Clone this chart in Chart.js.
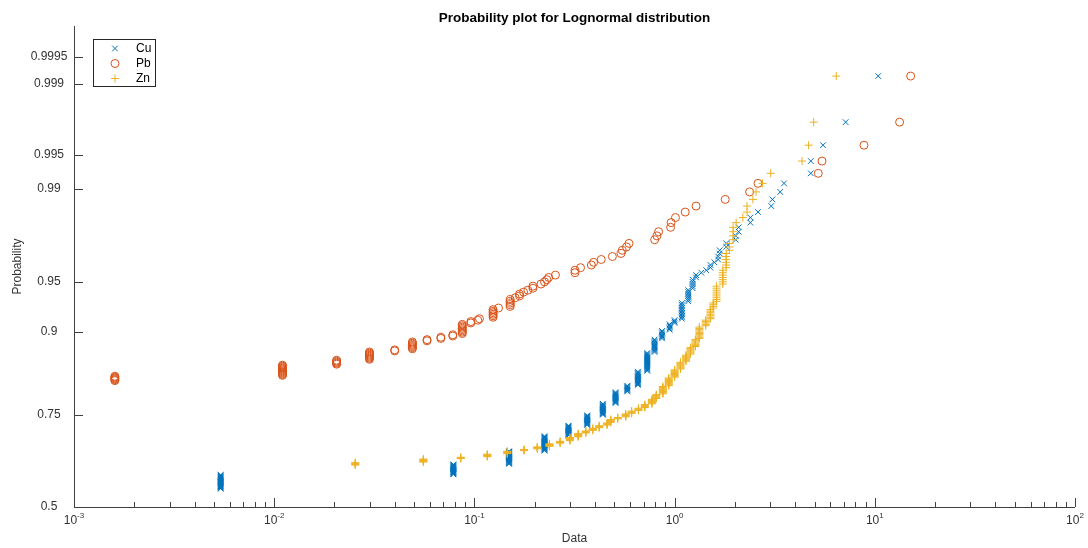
<!DOCTYPE html>
<html>
<head>
<meta charset="utf-8">
<title>Probability plot for Lognormal distribution</title>
<script src="https://cdn.jsdelivr.net/npm/chart.js"></script>
<style>body { margin: 0; background: #fff; }</style>
</head>
<body>
<canvas id="probChart" width="1088" height="548"></canvas>
<script>
// sample size (same samples for all three metals)
const N = 610;

// distinct values in ascending order, with how many samples share each value
const cuValues = [0.0054, 0.0785, 0.149, 0.224, 0.295, 0.366, 0.438, 0.507, 0.58, 0.656, 0.73, 0.794, 0.865, 0.945, 1.0, 1.087, 1.17, 1.23, 1.28, 1.36, 1.44, 1.51, 1.58, 1.65, 1.68, 1.81, 2.02, 2.09, 2.39, 2.61, 3.04, 3.08, 3.37, 3.52, 4.79, 5.51, 7.15, 10.4];
const cuCounts = [25, 18, 22, 24, 16, 15, 16, 15, 8, 16, 19, 12, 7, 5, 3, 11, 7, 5, 2, 1, 1, 2, 1, 2, 2, 2, 2, 2, 2, 1, 1, 1, 1, 1, 2, 1, 1, 1];

const pbValues = [0.0016, 0.011, 0.0205, 0.0299, 0.040, 0.049, 0.058, 0.068, 0.078, 0.087, 0.096, 0.104, 0.106, 0.124, 0.132, 0.151, 0.16, 0.168, 0.176, 0.185, 0.196, 0.215, 0.224, 0.23, 0.235, 0.254, 0.318, 0.339, 0.384, 0.394, 0.43, 0.489, 0.54, 0.548, 0.575, 0.592, 0.795, 0.816, 0.832, 0.955, 0.96, 1.01, 1.13, 1.28, 1.79, 2.37, 2.61, 5.22, 5.45, 8.83, 13.3, 15.1];
const pbCounts = [6, 12, 5, 8, 2, 7, 2, 2, 2, 8, 2, 1, 1, 6, 1, 5, 1, 2, 1, 1, 2, 1, 1, 1, 1, 1, 2, 1, 1, 1, 1, 1, 1, 1, 1, 1, 1, 1, 1, 1, 1, 1, 1, 1, 1, 1, 1, 1, 1, 1, 1, 1];

const znValues = [0.0254, 0.0556, 0.0855, 0.116, 0.146, 0.177, 0.206, 0.237, 0.268, 0.30, 0.33, 0.36, 0.39, 0.42, 0.46, 0.48, 0.52, 0.57, 0.61, 0.66, 0.71, 0.77, 0.81, 0.874, 0.935, 1.0, 1.07, 1.14, 1.2, 1.27, 1.33, 1.43, 1.51, 1.56, 1.62, 1.74, 1.81, 1.88, 1.96, 2.03, 2.19, 2.3, 2.46, 2.55, 2.75, 3.02, 4.33, 4.67, 4.95, 6.42];
const znCounts = [5, 6, 3, 5, 5, 3, 4, 5, 4, 6, 6, 4, 4, 4, 4, 5, 3, 5, 4, 4, 5, 7, 6, 10, 10, 9, 8, 7, 7, 7, 10, 5, 7, 4, 9, 7, 6, 3, 4, 1, 1, 2, 1, 1, 1, 1, 1, 1, 1, 1];

const probTicks = [0.5, 0.75, 0.9, 0.95, 0.99, 0.995, 0.999, 0.9995];
const probTickLabels = ['0.5', '0.75', '0.9', '0.95', '0.99', '0.995', '0.999', '0.9995'];
const dataTicks = [0.001, 0.01, 0.1, 1, 10, 100];
const dataTickExp = ['-3', '-2', '-1', '0', '1', '2'];
const axisTopProb = 0.99978;

// inverse standard normal cdf (Acklam)
function norminv(p) {
    const a = [-3.969683028665376e+01, 2.209460984245205e+02, -2.759285104469687e+02, 1.383577518672690e+02, -3.066479806614716e+01, 2.506628277459239e+00];
    const b = [-5.447609879822406e+01, 1.615858368580409e+02, -1.556989798598866e+02, 6.680131188771972e+01, -1.328068155288572e+01];
    const c = [-7.784894002430293e-03, -3.223964580411365e-01, -2.400758277161838e+00, -2.549732539343734e+00, 4.374664141464968e+00, 2.938163982698783e+00];
    const d = [7.784695709041462e-03, 3.224671290700398e-01, 2.445134137142996e+00, 3.754408661907416e+00];
    const pl = 0.02425;
    let q, r;
    if (p < pl) {
        q = Math.sqrt(-2 * Math.log(p));
        return (((((c[0]*q+c[1])*q+c[2])*q+c[3])*q+c[4])*q+c[5]) / ((((d[0]*q+d[1])*q+d[2])*q+d[3])*q+1);
    }
    if (p > 1 - pl) {
        q = Math.sqrt(-2 * Math.log(1 - p));
        return -(((((c[0]*q+c[1])*q+c[2])*q+c[3])*q+c[4])*q+c[5]) / ((((d[0]*q+d[1])*q+d[2])*q+d[3])*q+1);
    }
    q = p - 0.5; r = q * q;
    return (((((a[0]*r+a[1])*r+a[2])*r+a[3])*r+a[4])*r+a[5])*q / (((((b[0]*r+b[1])*r+b[2])*r+b[3])*r+b[4])*r+1);
}

// plotting positions (i-0.5)/N, counted from the largest value down
function plotPoints(values, counts) {
    const pts = [];
    let k = 0;
    for (let i = values.length - 1; i >= 0; i--) {
        for (let j = 0; j < counts[i]; j++) {
            k++;
            pts.push({ x: values[i], y: norminv(1 - (k - 0.5) / N) });
        }
    }
    return pts;
}

const FONT = '"Liberation Sans", Arial, Helvetica, sans-serif';
const AXIS_COLOR = '#404040';

const axesPlugin = {
    id: 'matlabAxes',
    afterDraw(chart) {
        const { ctx, chartArea: a, scales: { x, y } } = chart;
        ctx.save();
        ctx.strokeStyle = AXIS_COLOR;
        ctx.lineWidth = 1;
        ctx.beginPath();
        ctx.moveTo(a.left + 0.5, a.top);
        ctx.lineTo(a.left + 0.5, a.bottom + 0.5);
        ctx.lineTo(a.right, a.bottom + 0.5);
        ctx.stroke();

        // x ticks (inside), majors and minors
        ctx.beginPath();
        dataTicks.forEach((v, i) => {
            const px = Math.round(x.getPixelForValue(v)) + 0.5;
            ctx.moveTo(px, a.bottom); ctx.lineTo(px, a.bottom - 9);
            if (i < dataTicks.length - 1) {
                for (let m = 2; m <= 9; m++) {
                    const mx = Math.round(x.getPixelForValue(v * m)) + 0.5;
                    ctx.moveTo(mx, a.bottom); ctx.lineTo(mx, a.bottom - 5);
                }
            }
        });
        // y ticks (inside)
        probTicks.forEach(p => {
            const py = Math.round(y.getPixelForValue(norminv(p))) + 0.5;
            ctx.moveTo(a.left, py); ctx.lineTo(a.left + 9, py);
        });
        ctx.stroke();

        ctx.fillStyle = '#333';
        ctx.textBaseline = 'middle';
        ctx.textAlign = 'center';
        ctx.font = '12px ' + FONT;
        probTicks.forEach((p, i) => {
            ctx.fillText(probTickLabels[i], 49, y.getPixelForValue(norminv(p)));
        });

        // x tick labels as 10 with raised exponent
        dataTicks.forEach((v, i) => {
            const px = x.getPixelForValue(v);
            ctx.font = '12px ' + FONT;
            const wb = ctx.measureText('10').width;
            ctx.font = '8px ' + FONT;
            const we = ctx.measureText(dataTickExp[i]).width;
            const left = px - (wb + we) / 2;
            ctx.textAlign = 'left';
            ctx.font = '12px ' + FONT;
            ctx.fillText('10', left, a.bottom + 14);
            ctx.font = '8px ' + FONT;
            ctx.fillText(dataTickExp[i], left + wb, a.bottom + 9);
        });

        ctx.textAlign = 'center';
        ctx.font = '12px ' + FONT;
        ctx.fillText('Data', (a.left + a.right) / 2, 539);
        ctx.save();
        ctx.translate(18, (a.top + a.bottom) / 2);
        ctx.rotate(-Math.PI / 2);
        ctx.fillText('Probability', 0, 0);
        ctx.restore();

        ctx.fillStyle = '#000';
        ctx.font = 'bold 13.5px ' + FONT;
        ctx.fillText('Probability plot for Lognormal distribution', (a.left + a.right) / 2, 18);

        // legend box
        ctx.strokeStyle = '#262626';
        ctx.fillStyle = '#fff';
        ctx.fillRect(93, 39, 62, 47);
        ctx.strokeRect(93.5, 39.5, 62, 47);
        chart.data.datasets.forEach((ds, i) => {
            const ly = 48.5 + i * 15;
            ctx.strokeStyle = ds.borderColor;
            ctx.fillStyle = 'rgba(0,0,0,0)';
            ctx.lineWidth = 1;
            Chart.helpers.drawPoint(ctx, { pointStyle: ds.pointStyle, radius: ds.pointRadius, rotation: 0, borderWidth: 1 }, 115, ly);
            ctx.fillStyle = '#000';
            ctx.textAlign = 'left';
            ctx.font = '12px ' + FONT;
            ctx.fillText(ds.label, 136, ly);
        });
        ctx.restore();
    }
};

const seriesStyle = [
    { label: 'Cu', values: cuValues, counts: cuCounts, color: '#0072BD', style: 'crossRot', order: 3 },
    { label: 'Pb', values: pbValues, counts: pbCounts, color: '#D95319', style: 'circle', order: 2 },
    { label: 'Zn', values: znValues, counts: znCounts, color: '#EDB120', style: 'cross', order: 1 }
];

new Chart(document.getElementById('probChart'), {
    type: 'scatter',
    data: {
        datasets: seriesStyle.map(s => ({
            label: s.label,
            data: plotPoints(s.values, s.counts),
            borderColor: s.color,
            backgroundColor: 'rgba(0,0,0,0)',
            pointStyle: s.style,
            pointRadius: 4,
            pointBorderWidth: 1,
            order: s.order
        }))
    },
    options: {
        responsive: false,
        animation: false,
        events: [],
        layout: { padding: { left: 74, right: 13, top: 26, bottom: 41 } },
        plugins: { legend: { display: false }, tooltip: { enabled: false }, title: { display: false } },
        scales: {
            x: { type: 'logarithmic', min: 0.001, max: 100, display: false },
            y: { type: 'linear', min: 0, max: norminv(axisTopProb), display: false }
        }
    },
    plugins: [axesPlugin]
});
</script>
</body>
</html>
